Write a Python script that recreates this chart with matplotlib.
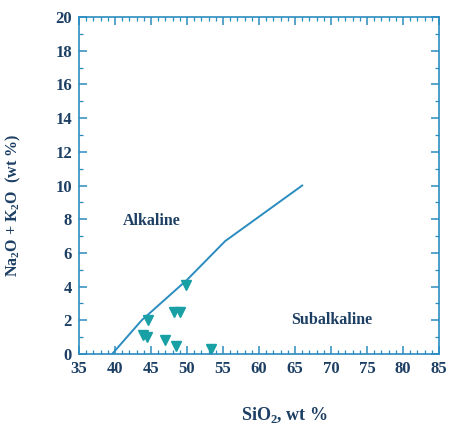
import matplotlib
matplotlib.use('Agg')
from matplotlib import pyplot as plt
from matplotlib.ticker import MultipleLocator

# dividing line, alkaline / subalkaline
line_sio2 = [39.6, 43.7, 50.0, 55.3, 66.0]
line_alk = [0.0, 2.0, 4.4, 6.7, 10.0]

# samples
sio2 = [49.9, 48.2, 49.0, 44.6, 43.9, 44.5, 47.0, 48.5, 53.4]
alk = [4.1, 2.5, 2.5, 2.0, 1.1, 1.0, 0.85, 0.5, 0.3]

x_ticks = [35, 40, 45, 50, 55, 60, 65, 70, 75, 80, 85]
y_ticks = [0, 2, 4, 6, 8, 10, 12, 14, 16, 18, 20]

text_col = '#1c3f63'
line_col = '#2b8cc0'
mark_col = '#18a0a4'

plt.rcParams['font.family'] = ['Liberation Serif', 'DejaVu Serif']
plt.rcParams['font.weight'] = 'bold'
plt.rcParams['mathtext.fontset'] = 'custom'
plt.rcParams['mathtext.rm'] = 'Liberation Serif'
plt.rcParams['mathtext.bf'] = 'Liberation Serif:bold'


def main():
    fig = plt.figure(figsize=(4.52, 4.26), dpi=100)
    ax = fig.add_axes([79 / 452, 1 - 354 / 426, 360 / 452, 337 / 426])

    ax.plot(line_sio2, line_alk, color=line_col, lw=1.4)
    ax.plot(sio2, alk, 'v', color=mark_col, markersize=7, markeredgecolor=mark_col)

    ax.text(45.1, 7.9, 'Alkaline', color=text_col, fontsize=11.5,
            fontweight='bold', ha='center', va='center')
    ax.text(70.1, 2.0, 'Subalkaline', color=text_col, fontsize=11.5,
            fontweight='bold', ha='center', va='center')

    ax.set_xlim(35, 85)
    ax.set_ylim(0, 20)
    ax.set_xticks(x_ticks)
    ax.set_yticks(y_ticks)
    ax.xaxis.set_minor_locator(MultipleLocator(1))
    ax.yaxis.set_minor_locator(MultipleLocator(1))
    ax.tick_params(which='both', direction='in', top=True, right=True,
                   colors=line_col, labelcolor=text_col, labelsize=12)
    ax.tick_params(which='major', length=6, width=1.1, pad=5)
    ax.tick_params(which='minor', length=3, width=0.9)
    for lab in ax.get_xticklabels() + ax.get_yticklabels():
        lab.set_fontweight('bold')
    for sp in ax.spines.values():
        sp.set_color(line_col)
        sp.set_linewidth(1.2)

    ax.set_xlabel('SiO$_\\mathbf{2}$, wt %', color=text_col, fontsize=13,
                  fontweight='bold')
    ax.xaxis.set_label_coords(0.57, -0.15)
    ax.set_ylabel('Na$_\\mathbf{2}$O + K$_\\mathbf{2}$O  (wt %)', color=text_col,
                  fontsize=11.5, fontweight='bold')
    ax.yaxis.set_label_coords(-0.155, 0.44)

    fig.savefig('out.png', dpi=100)


if __name__ == '__main__':
    main()
